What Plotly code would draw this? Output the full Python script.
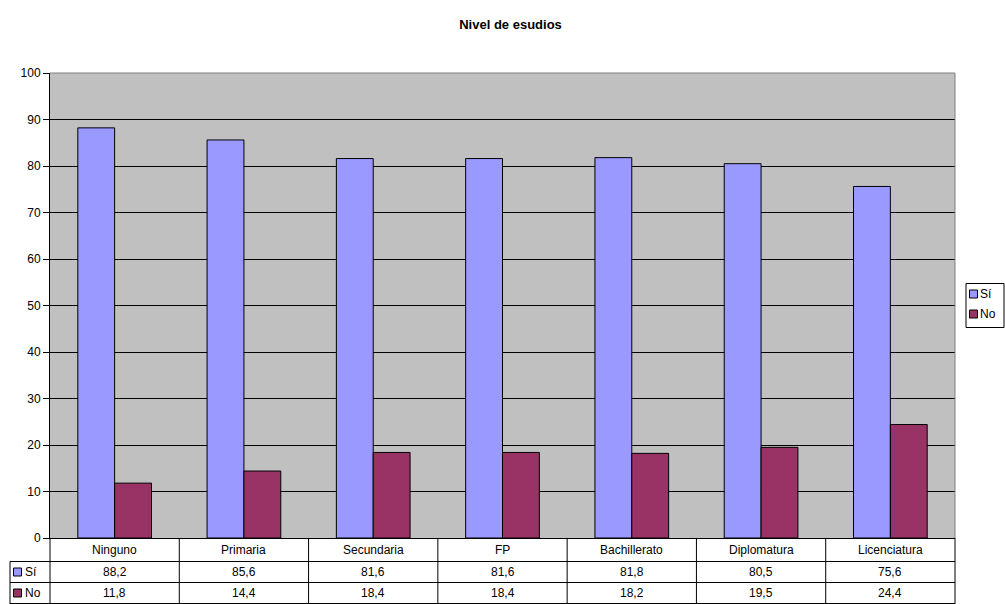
import plotly.graph_objects as go

categories = ["Ninguno", "Primaria", "Secundaria", "FP", "Bachillerato", "Diplomatura", "Licenciatura"]
si_values = [88.2, 85.6, 81.6, 81.6, 81.8, 80.5, 75.6]
no_values = [11.8, 14.4, 18.4, 18.4, 18.2, 19.5, 24.4]
series_names = ["Sí", "No"]
series_colors = ["#9999FF", "#993366"]
title_text = "Nivel de esudios"

W, H = 1005, 604
L, R, T, B = 50, 955, 73, 538
FONT = "Arial, Liberation Sans, sans-serif"

def px(x):
    return (x - L) / (R - L)

def py(y):
    return (B - y) / (B - T)

fig = go.Figure()
for name, vals, col in zip(series_names, [si_values, no_values], series_colors):
    fig.add_trace(go.Bar(
        x=categories, y=vals, name=name,
        marker=dict(color=col, line=dict(color="black", width=1)),
        showlegend=False, hoverinfo="x+y+name",
    ))

shapes = []
annotations = []

# gray border of plot area (top and right)
shapes.append(dict(type="line", xref="paper", yref="paper", x0=1, x1=1, y0=0, y1=1,
                   line=dict(color="#808080", width=1)))
shapes.append(dict(type="line", xref="paper", yref="paper", x0=0, x1=1, y0=1, y1=1,
                   line=dict(color="#808080", width=1)))

# data table lines
row_lines = [561.5, 582.5, 603.5]
for yy in row_lines:
    shapes.append(dict(type="line", xref="paper", yref="paper", x0=px(10), x1=px(R),
                       y0=py(yy), y1=py(yy), line=dict(color="black", width=1)))
n = len(categories)
for k in range(n + 1):
    xx = L + k * (R - L) / n
    shapes.append(dict(type="line", xref="paper", yref="paper", x0=px(xx), x1=px(xx),
                       y0=py(B), y1=py(604), line=dict(color="black", width=1)))
shapes.append(dict(type="line", xref="paper", yref="paper", x0=px(10), x1=px(10),
                   y0=py(561.5), y1=py(604), line=dict(color="black", width=1)))

row_centers = [549.5, 572, 593]
tfont = dict(family=FONT, size=12, color="black")
for c in categories:
    annotations.append(dict(x=c, xref="x", y=py(row_centers[0]), yref="paper",
                            xanchor="center", yanchor="middle",
                            text=c, showarrow=False, font=tfont))

def fmt(v):
    return f"{v:.1f}".replace(".", ",")

for ri, (vals, name, col) in enumerate(zip([si_values, no_values], series_names, series_colors)):
    yc = row_centers[ri + 1]
    for c, v in zip(categories, vals):
        annotations.append(dict(x=c, xref="x", y=py(yc), yref="paper", text=fmt(v),
                                xanchor="center", yanchor="middle",
                                showarrow=False, font=tfont))
    shapes.append(dict(type="rect", xref="paper", yref="paper", x0=px(13.5), x1=px(21.5),
                       y0=py(yc - 4), y1=py(yc + 4), fillcolor=col, line=dict(color="black", width=1)))
    annotations.append(dict(x=px(23), xref="paper", y=py(yc), yref="paper", text=name,
                            xanchor="left", yanchor="middle", showarrow=False, font=tfont))

# legend (drawn)
shapes.append(dict(type="rect", xref="paper", yref="paper", x0=px(966), x1=px(1004),
                   y0=py(283.5), y1=py(327.5), fillcolor="white", line=dict(color="black", width=1)))
for i, (name, col) in enumerate(zip(series_names, series_colors)):
    yc = 294 + i * 20
    shapes.append(dict(type="rect", xref="paper", yref="paper", x0=px(969.5), x1=px(977.5),
                       y0=py(yc - 4), y1=py(yc + 4), fillcolor=col, line=dict(color="black", width=1)))
    annotations.append(dict(x=px(978.5), xref="paper", y=py(yc), yref="paper", text=name,
                            xanchor="left", yanchor="middle", showarrow=False, font=tfont))

fig.update_layout(
    width=W, height=H,
    margin=dict(l=L, r=W - R, t=T, b=H - B, pad=0),
    paper_bgcolor="white", plot_bgcolor="#C0C0C0",
    title=dict(text="<b>" + title_text + "</b>", x=0.508, xanchor="center", y=1 - 24 / H, yanchor="middle",
               font=dict(family=FONT, size=13, color="black")),
    barmode="group", bargap=0.43, bargroupgap=0,
    font=dict(family=FONT, size=12, color="black"),
    shapes=shapes, annotations=annotations,
    xaxis=dict(type="category", range=[-0.5, n - 0.5], showticklabels=False, showgrid=False,
               showline=True, linecolor="black", linewidth=1, ticks="", zeroline=False),
    yaxis=dict(range=[0, 100], dtick=10, tick0=0, showgrid=True, gridcolor="black", gridwidth=1,
               showline=True, linecolor="black", linewidth=1, ticks="outside", ticklen=6,
               tickcolor="black", zeroline=False, tickfont=dict(family=FONT, size=12, color="black")),
)

fig.write_html("out.html", config={"displayModeBar": False},
               post_script="document.body.style.margin='0';document.body.style.overflow='hidden';")
